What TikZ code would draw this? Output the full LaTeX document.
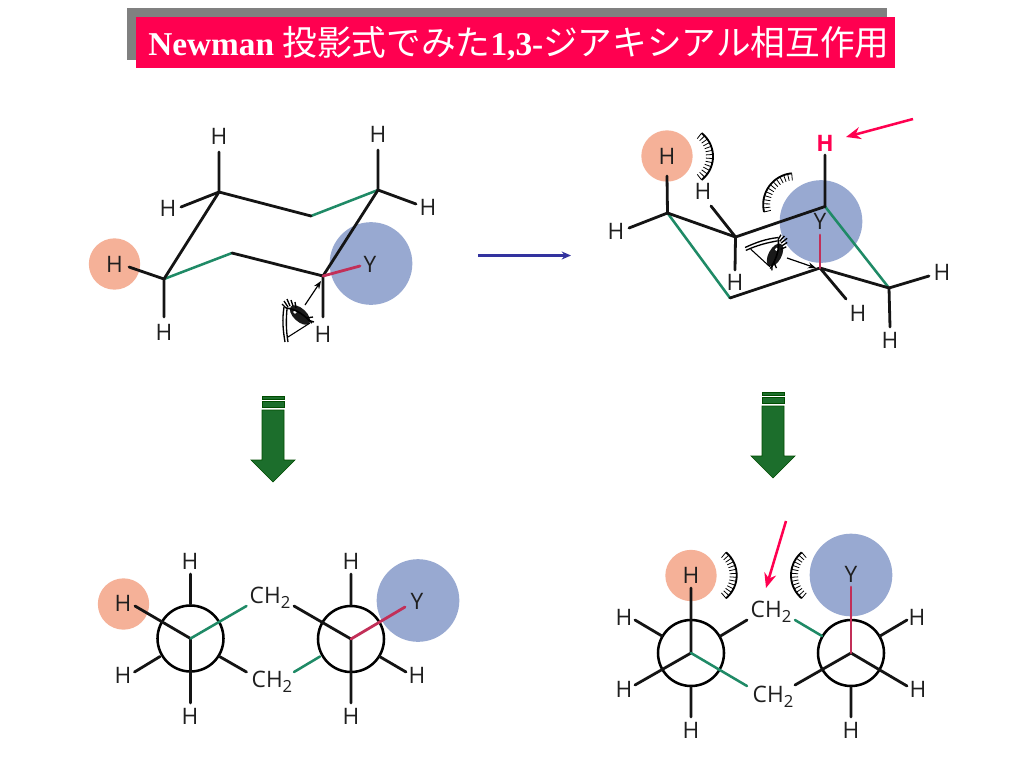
\documentclass[tikz,border=0pt]{standalone}
\usepackage{fontspec}
\usetikzlibrary{arrows.meta}
\setmainfont{Liberation Serif}
\newfontfamily\cjkfont{Noto Sans CJK JP}
\newfontfamily\labfont{Open Sans}
\definecolor{peach}{HTML}{F5B198}
\definecolor{bluecirc}{HTML}{98A9D1}
\definecolor{bondgreen}{HTML}{1F8A66}
\definecolor{bondred}{HTML}{C22F58}
\definecolor{titlered}{HTML}{FF0050}
\definecolor{titlegray}{HTML}{808080}
\definecolor{arrowblue}{HTML}{33339F}
\definecolor{blockgreen}{HTML}{1C6E2C}
\newcommand{\chtwo}{CH\raisebox{-0.45ex}{\fontsize{12.5pt}{12.5pt}\selectfont 2}}
\newcommand{\hatcharc}[5]{%
  \draw[line width=1.4pt] plot[domain=#4:#5,samples=24,smooth] ({#1+#3*cos(\x)},{#2+#3*sin(\x)});
  \pgfmathsetmacro{\hstep}{(#5-#4)/13}
  \foreach \k in {0,...,13}{
    \pgfmathsetmacro{\ang}{#4+\k*\hstep}
    \draw[line width=0.6pt] ({#1+#3*cos(\ang)},{#2+#3*sin(\ang)}) -- ({#1+(#3-7)*cos(\ang)},{#2+(#3-7)*sin(\ang)});
  }}
\tikzset{
  x=0.75pt,y=-0.75pt,
  bond/.style={line width=2.1pt,black!92,line cap=round},
  gbond/.style={line width=1.9pt,bondgreen,line cap=round},
  rbond/.style={line width=2.1pt,bondred,line cap=round},
  lab/.style={font=\labfont\fontsize{17pt}{17pt}\selectfont,text=black!88,inner sep=0pt},
  pinkarrow/.style={line width=1.9pt,titlered,-{Stealth[length=11pt,width=9pt]}},
  ring/.style={draw=black,line width=1.9pt,fill=none,circle,minimum size=49.5pt,inner sep=0pt},
  peachball/.style={circle,fill=peach,minimum size=38.5pt,inner sep=0pt},
  blueball/.style={circle,fill=bluecirc,minimum size=62pt,inner sep=0pt},
  eyeicon/.pic={
    \fill[black!90,rotate=-43] (0,0) ellipse [x radius=12.5,y radius=6.5];
    \fill[white] (-5,-3) circle [radius=1.8];
    \draw[line width=1pt] (-16,-8) .. controls (-18,5) and (-17,15) .. (-15,27);
    \draw[line width=1pt] (-13,-6) .. controls (-14,5) and (-14,15) .. (-12,27);
    \draw[line width=0.8pt] (-12,22) -- (10,8);
    \draw[line width=1.2pt] (-14,-7) .. controls (-3,-6) and (5,1) .. (12,8);
    \foreach \a/\b/\c/\d in {-14/-7/-18/-11,-12/-8/-16/-14,-10/-9/-13/-16,-7/-9/-9/-15,-4/-7/-5/-13,6/3/13/2,8/5/14/7}{
      \draw[line width=1pt] (\a,\b) -- (\c,\d);
    }
  }
}
\begin{document}
\begin{tikzpicture}
\fill[white] (0,0) rectangle (1024,768);
\useasboundingbox (0,0) rectangle (1024,768);
% Title
\fill[titlegray] (127,8) rectangle (887,60);
\fill[titlered] (136,17) rectangle (895,68);
\node[anchor=base west,inner sep=0pt,text=white,font=\bfseries\fontsize{25pt}{25pt}\selectfont] (title) at (148,55.5)
  {Newman {\cjkfont\mdseries\fontsize{26pt}{26pt}\selectfont 投影式でみた}1,3-{\cjkfont\mdseries\fontsize{26pt}{26pt}\selectfont ジアキシアル相互作用}};

% ---- top left chair
\node[peachball] (tlpeach) at (114.5,264) {};
\node[blueball] (tlblue) at (371,263.5) {};
\coordinate (a) at (164,279); \coordinate (b) at (232,253); \coordinate (c) at (323,276);
\coordinate (d) at (378,190); \coordinate (e) at (311,216); \coordinate (f) at (219,192);
\coordinate (f1) at (219,152); \coordinate (f2) at (181,207); \coordinate (d1) at (378,150);
\coordinate (d2) at (416,204); \coordinate (a1) at (129,267); \coordinate (a2) at (164,317);
\coordinate (c1) at (323,317); \coordinate (c2) at (360,266);
\draw[gbond] (a) -- (b);
\draw[gbond] (d) -- (e);
\draw[bond] (b) -- (c) (c) -- (d) (e) -- (f) (f) -- (a);
\draw[bond] (f) -- (f1) (f) -- (f2) (d) -- (d1) (d) -- (d2) (a) -- (a1) (a) -- (a2) (c) -- (c1);
\draw[rbond] (c) -- (c2);
\node[lab] (tl1) at (219,136) {H};
\node[lab] (tl2) at (168,208) {H};
\node[lab] (tl3) at (378,134) {H};
\node[lab] (tl4) at (428,207) {H};
\node[lab] (tl5) at (114.5,264) {H};
\node[lab] (tl6) at (164,332) {H};
\node[lab] (tl7) at (323,334) {H};
\node[lab] (tl8) at (370,264) {Y};
\pic at (300,315) {eyeicon};
\coordinate (eyeA) at (305,305); \coordinate (eyeB) at (321,281);
\draw[line width=0.9pt,-{Stealth[length=6pt,width=4.5pt]}] (eyeA) -- (eyeB);

% ---- top right chair
\node[peachball] (trpeach) at (667,156) {};
\node[blueball] (trblue) at (821,221.5) {};
\coordinate (A) at (667.5,213); \coordinate (B) at (735.5,237); \coordinate (C) at (825,206.5);
\coordinate (D) at (889,288); \coordinate (E) at (820,268); \coordinate (F) at (730,298);
\coordinate (A1) at (667,176); \coordinate (A2) at (629,228); \coordinate (B1) at (711,206);
\coordinate (B2) at (735,270); \coordinate (C1) at (825,155); \coordinate (E1) at (820,235);
\coordinate (E2) at (846,299); \coordinate (D1) at (929,276); \coordinate (D2) at (890,327);
\draw[gbond] (C) -- (D);
\draw[gbond] (F) -- (A);
\draw[bond] (A) -- (B) (B) -- (C) (D) -- (E) (E) -- (F);
\draw[bond] (A) -- (A1) (A) -- (A2) (B) -- (B1) (B) -- (B2) (C) -- (C1) (E) -- (E2) (D) -- (D1) (D) -- (D2);
\draw[rbond] (E) -- (E1);
\node[lab] (tr1) at (667,156) {H};
\node[lab] (tr2) at (616,231) {H};
\node[lab] (tr3) at (703,191) {H};
\node[lab] (tr4) at (735,282) {H};
\node[lab,text=titlered,font=\labfont\bfseries\fontsize{17pt}{17pt}\selectfont] (tr5) at (825,143) {H};
\node[lab] (tr6) at (820,221) {Y};
\node[lab] (tr7) at (858,313) {H};
\node[lab] (tr8) at (942,272) {H};
\node[lab] (tr9) at (890,340) {H};
\pic[rotate=-75] at (775,255) {eyeicon};
\coordinate (eyeC) at (787,258); \coordinate (eyeD) at (816,268);
\draw[line width=0.9pt,-{Stealth[length=6pt,width=4.5pt]}] (eyeC) -- (eyeD);
\coordinate (pa1) at (913,119); \coordinate (pa2) at (846,137);
\draw[pinkarrow] (pa1) -- (pa2);
\hatcharc{683.3}{156.5}{29.7}{-52}{52}
\hatcharc{794.6}{204.6}{31.4}{-193.6}{-95.3}

% ---- middle arrow
\coordinate (ma1) at (478,255.5); \coordinate (ma2) at (571,255.5);
\draw[line width=1.6pt,arrowblue,-{Stealth[length=7pt,width=6pt]}] (ma1) -- (ma2);

% ---- block arrows
\foreach \ox/\oy in {0/0,500/-4}{
  \begin{scope}[shift={(\ox,\oy)}]
    \filldraw[fill=blockgreen,draw=black!70!green,line width=0.5pt] (262,396.5) rectangle (284,399.5);
    \filldraw[fill=blockgreen,draw=black!70!green,line width=0.5pt] (262,401.5) rectangle (284,407.5);
    \filldraw[fill=blockgreen,draw=black!70!green,line width=0.5pt] (262,410) -- (284,410) -- (284,460) -- (295,460) -- (273,482) -- (251,460) -- (262,460) -- cycle;
  \end{scope}
}

% ---- bottom left Newman
\node[peachball] (blpeach) at (123.5,604) {};
\node[blueball] (blblue) at (418,600.5) {};
\node[ring] (n1) at (190.5,638.5) {};
\node[ring] (n2) at (351,639) {};
\coordinate (n1c) at (190.5,638.5); \coordinate (n2c) at (351,639);
\coordinate (p1) at (135,606); \coordinate (p2) at (246.5,606); \coordinate (p3) at (190.5,703);
\coordinate (p4) at (190.5,574); \coordinate (p5) at (160,656.5); \coordinate (p6) at (134.5,672);
\coordinate (p7) at (219.5,656.5); \coordinate (p8) at (246.5,672);
\draw[bond] (n1c) -- (p1) (n1c) -- (p3) (n1.north) -- (p4) (p5) -- (p6) (p7) -- (p8);
\draw[gbond] (n1c) -- (p2);
\coordinate (q1) at (294,606); \coordinate (q2) at (405,607); \coordinate (q3) at (351,703);
\coordinate (q4) at (351,574); \coordinate (q5) at (320,656.5); \coordinate (q6) at (294,672);
\coordinate (q7) at (379.5,656.5); \coordinate (q8) at (406,672);
\draw[bond] (n2c) -- (q1) (n2c) -- (q3) (n2.north) -- (q4) (q7) -- (q8);
\draw[rbond] (n2c) -- (q2);
\draw[gbond] (q5) -- (q6);
\node[lab] (bl1) at (190,561) {H};
\node[lab] (bl2) at (123,603) {H};
\node[lab] (bl3) at (123,675) {H};
\node[lab] (bl4) at (190,716) {H};
\node[lab] (bl5) at (270,598) {\chtwo};
\node[lab] (bl6) at (272,682) {\chtwo};
\node[lab] (bl7) at (351,561) {H};
\node[lab] (bl8) at (417,601) {Y};
\node[lab] (bl9) at (417,675) {H};
\node[lab] (bl10) at (351,716) {H};

% ---- bottom right Newman
\node[peachball] (brpeach) at (691,575.5) {};
\node[blueball] (brblue) at (851,575) {};
\node[ring] (n3) at (691,653) {};
\node[ring] (n4) at (851,653) {};
\coordinate (n3c) at (691,653); \coordinate (n4c) at (851,653);
\coordinate (r1) at (691,588); \coordinate (r2) at (635,685); \coordinate (r3) at (747,686);
\coordinate (r4) at (662,636); \coordinate (r5) at (635,620); \coordinate (r6) at (720.5,636);
\coordinate (r7) at (747,620); \coordinate (r8) at (691,717);
\draw[bond] (n3c) -- (r1) (n3c) -- (r2) (r4) -- (r5) (r6) -- (r7) (n3.south) -- (r8);
\draw[gbond] (n3c) -- (r3);
\coordinate (s1) at (851,587); \coordinate (s2) at (795,685); \coordinate (s3) at (907,686);
\coordinate (s4) at (822,636); \coordinate (s5) at (795,620); \coordinate (s6) at (880,636);
\coordinate (s7) at (907,620); \coordinate (s8) at (851,717);
\draw[bond] (n4c) -- (s2) (n4c) -- (s3) (s6) -- (s7) (n4.south) -- (s8);
\draw[rbond] (n4c) -- (s1);
\draw[gbond] (s4) -- (s5);
\node[lab] (br1) at (691,575) {H};
\node[lab] (br2) at (624,617) {H};
\node[lab] (br3) at (624,689) {H};
\node[lab] (br4) at (691,730) {H};
\node[lab] (br5) at (771,612) {\chtwo};
\node[lab] (br6) at (773,697) {\chtwo};
\node[lab] (br7) at (851,574) {Y};
\node[lab] (br8) at (917,617) {H};
\node[lab] (br9) at (918,689) {H};
\node[lab] (br10) at (851,730) {H};
\coordinate (pb1) at (786,521); \coordinate (pb2) at (766,588);
\draw[pinkarrow] (pb1) -- (pb2);
\hatcharc{706.7}{575.3}{30}{-50}{50}
\hatcharc{821}{575.3}{30}{130}{230}
\end{tikzpicture}
\end{document}
